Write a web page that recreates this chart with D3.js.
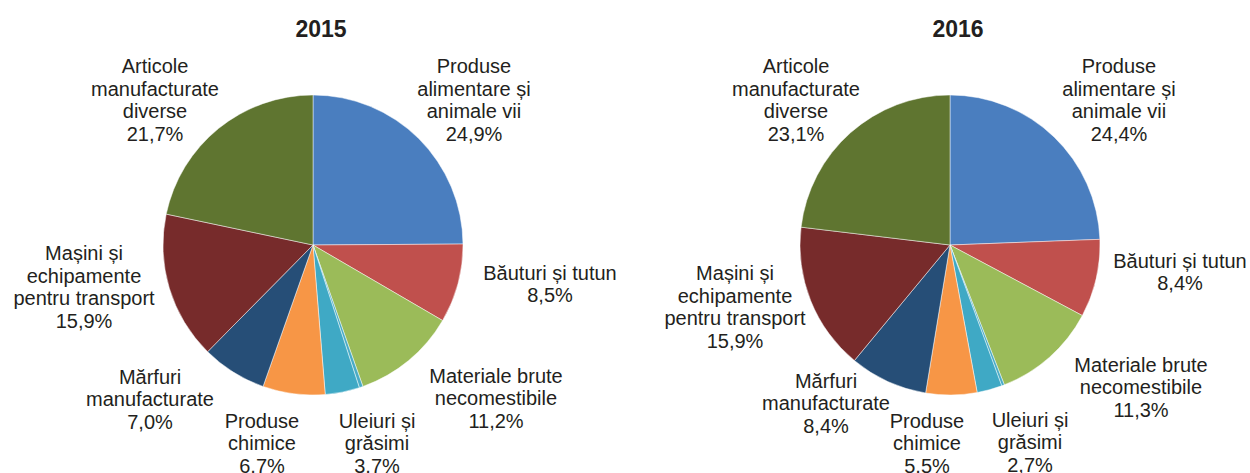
<!DOCTYPE html>
<html>
<head>
<meta charset="utf-8">
<script src="https://cdn.jsdelivr.net/npm/d3@7"></script>
<style>
  body { margin: 0; background: #fff; }
  svg text { font-family: "Liberation Sans", Arial, sans-serif; fill: #231f20; }
</style>
</head>
<body>
<div id="chart"></div>
<script>

// categories (SITC sections), in drawing order clockwise from 12 o'clock
var categories = [
  "Produse alimentare și animale vii",
  "Băuturi și tutun",
  "Materiale brute necomestibile",
  "Combustibili minerali",
  "Uleiuri și grăsimi",
  "Produse chimice",
  "Mărfuri manufacturate",
  "Mașini și echipamente pentru transport",
  "Articole manufacturate diverse"
];

// label lines as printed on the chart (null = slice without label)
var labelLines = [
  ["Produse", "alimentare și", "animale vii"],
  ["Băuturi și tutun"],
  ["Materiale brute", "necomestibile"],
  null,
  ["Uleiuri și", "grăsimi"],
  ["Produse", "chimice"],
  ["Mărfuri", "manufacturate"],
  ["Mașini și", "echipamente", "pentru transport"],
  ["Articole", "manufacturate", "diverse"]
];

var years = ["2015", "2016"];

// shares in %
var values2015 = [24.9, 8.5, 11.2, 0.4, 3.7, 6.7, 7.0, 15.9, 21.7];
var values2016 = [24.4, 8.4, 11.3, 0.3, 2.7, 5.5, 8.4, 15.9, 23.1];

var colors = ["#4a7ebf", "#c0504d", "#9bbb59", "#4bacc6", "#3fa9c5",
              "#f79646", "#264e77", "#772b2b", "#5f7530"];

// label placement: offset of the label block centre from the pie centre
var labelOffsets2015 = [[161, -145], [237, 39], [183, 153], null, [64, 198],
                        [-51, 198], [-163, 154], [-229, 42], [-158, -145]];
var labelOffsets2016 = [[169, -145], [230, 27], [191, 142], null, [80, 197],
                        [-23, 198], [-124, 158], [-215, 62], [-154, -145]];

var width = 1250, height = 473;
var radius = 150;
var lineH = 22.5;

var svg = d3.select("#chart")
  .append("svg")
    .attr("width", width)
    .attr("height", height);

var pie = d3.pie()
  .value(function(d) { return d; })
  .sort(null)
  .startAngle(0)
  .endAngle(2 * Math.PI);

var arc = d3.arc()
  .innerRadius(0)
  .outerRadius(radius);

var fmt = function(v) { return d3.format(".1f")(v).replace(".", ",") + "%"; };

function drawPie(cx, cy, year, values, offsets) {
  var g = svg.append("g")
    .attr("transform", "translate(" + cx + "," + cy + ")");

  g.selectAll("path")
    .data(pie(values))
    .enter()
    .append("path")
      .attr("d", arc)
      .style("fill", function(d, i) { return colors[i]; })
      .style("stroke", "#ffffff")
      .style("stroke-opacity", 0.6)
      .style("stroke-width", 0.8);

  // title
  svg.append("text")
    .attr("x", cx + 8)
    .attr("y", 37)
    .attr("text-anchor", "middle")
    .style("font-size", "23px")
    .style("font-weight", "bold")
    .text(year);

  // labels
  values.forEach(function(v, i) {
    if (!labelLines[i]) return;
    var lines = labelLines[i].concat([fmt(v)]);
    var top = offsets[i][1] - (lines.length - 1) * lineH / 2;
    var t = g.append("text")
      .attr("text-anchor", "middle")
      .style("font-size", "20px");
    lines.forEach(function(s, k) {
      t.append("tspan")
        .attr("x", offsets[i][0])
        .attr("y", top + k * lineH + 7)
        .text(s);
    });
  });
}

drawPie(313, 245, years[0], values2015, labelOffsets2015);
drawPie(950, 245, years[1], values2016, labelOffsets2016);

</script>
</body>
</html>
